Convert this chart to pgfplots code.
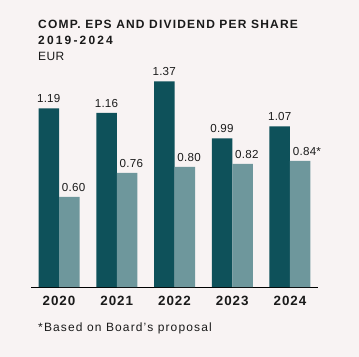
\documentclass[border=0pt]{standalone}
\usepackage{fontspec}
\setmainfont{Liberation Sans}
\newfontfamily\titlefont[LetterSpace=10]{Liberation Sans}
\newfontfamily\yearfont[LetterSpace=18]{Liberation Sans}
\newfontfamily\tickfont[LetterSpace=7]{Liberation Sans}
\newfontfamily\notefont[LetterSpace=9.5]{Liberation Sans}
\newfontfamily\eurfont[LetterSpace=3]{Liberation Sans}
\newfontfamily\valfont[LetterSpace=2]{Liberation Sans}
\usepackage{pgfplots}
\pgfplotsset{compat=1.18}
\definecolor{bg}{HTML}{F8F3F3}
\definecolor{darkteal}{HTML}{0E515A}
\definecolor{lightteal}{HTML}{6E979C}
\definecolor{txt}{HTML}{1A1A1A}
\begin{document}
\begin{tikzpicture}
\fill[bg] (0,0) rectangle (359bp,357bp);
\useasboundingbox (0,0) rectangle (359bp,357bp);
\node[anchor=base west, inner sep=0, text=txt, font=\titlefont\bfseries\fontsize{12bp}{13bp}\selectfont] at (38bp,328.7bp) {COMP. EPS AND DIVIDEND PER SHARE};
\node[anchor=base west, inner sep=0, text=txt, font=\yearfont\bfseries\fontsize{12bp}{13bp}\selectfont] at (38bp,312bp) {2019-2024};
\node[anchor=base west, inner sep=0, text=txt, font=\eurfont\fontsize{12bp}{14bp}\selectfont] at (38bp,296bp) {EUR};
\node[anchor=base west, inner sep=0, text=txt, font=\notefont\fontsize{12bp}{14bp}\selectfont] at (38bp,26bp) {*Based on Board’s proposal};
\begin{axis}[
  at={(31bp,70bp)}, anchor=south west,
  scale only axis, width=287bp, height=225bp,
  xmin=-0.485, xmax=4.485, ymin=0, ymax=1.5,
  axis x line=bottom, hide y axis,
  x axis line style={-, line width=0.9bp, black},
  xtick={0,1,2,3,4},
  xticklabels={2020,2021,2022,2023,2024},
  major tick length=0pt,
  xticklabel style={anchor=base, inner sep=0pt, yshift=-18bp, text=txt, font=\tickfont\bfseries\fontsize{13.4bp}{15bp}\selectfont},
  ybar=0pt, bar width=20.5bp,
  point meta=explicit symbolic,
  nodes near coords,
  every node near coord/.append style={inner sep=0pt, text=txt, font=\valfont\fontsize{11.6bp}{13bp}\selectfont},
  clip=false,
]
\addplot[fill=darkteal, draw=none, every node near coord/.append style={anchor=base, yshift=5.5bp}]
  coordinates {(0,1.19)[1.19] (1,1.16)[1.16] (2,1.37)[1.37] (3,0.99)[0.99] (4,1.07)[1.07]};
\addplot[fill=lightteal, draw=none, every node near coord/.append style={anchor=base west, xshift=-7.5bp, yshift=5.5bp}]
  coordinates {(0,0.60)[0.60] (1,0.76)[0.76] (2,0.80)[0.80] (3,0.82)[0.82] (4,0.84)[0.84*]};
\end{axis}
\end{tikzpicture}
\end{document}
